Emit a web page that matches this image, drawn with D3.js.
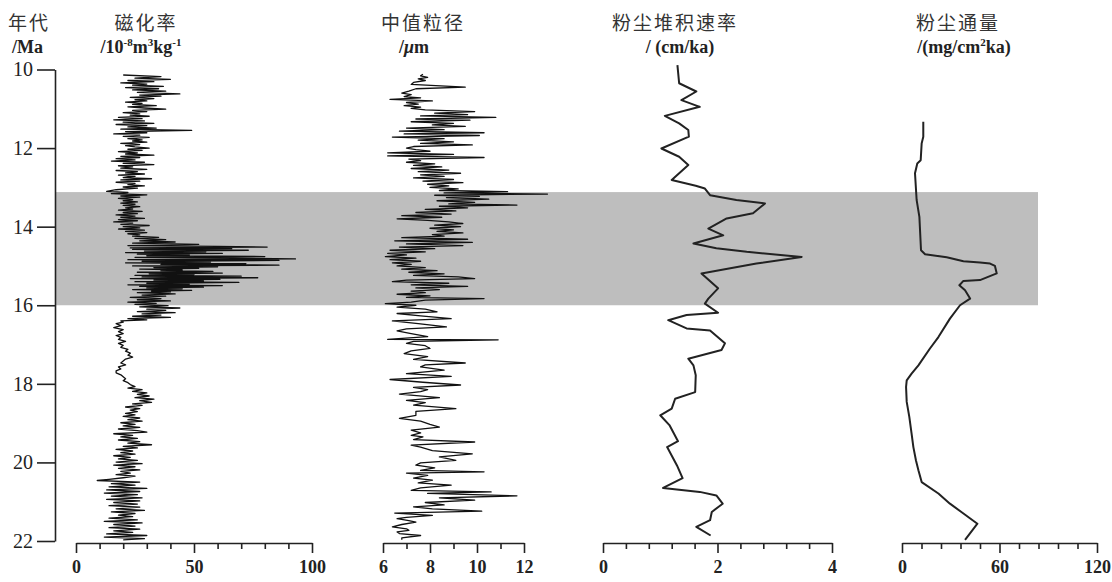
<!DOCTYPE html>
<html>
<head>
<meta charset="utf-8">
<script src="https://cdn.jsdelivr.net/npm/d3@7"></script>
<style>
  body { margin: 0; background: #fff; }
  svg { display: block; }
</style>
</head>
<body>
<svg id="chart" width="1112" height="582"></svg>
<script>
// 年代轴 (Ma)
const ageTicks = [10, 12, 14, 16, 18, 20, 22];
// 灰色条带范围 (Ma)
const bandAges = [13.12, 16.0];

// 磁化率 [年代, 值]
const magSus = [
  [10.14,20],[10.18,36],[10.22,25],[10.25,40],[10.28,22],[10.31,33],[10.34,19],[10.37,30],[10.40,24],[10.43,37],
  [10.46,21],[10.49,35],[10.52,24],[10.55,38],[10.58,26],[10.62,44],[10.65,27],[10.68,36],[10.71,23],[10.74,33],
  [10.77,25],[10.80,30],[10.83,21],[10.86,28],[10.89,24],[10.92,34],[10.95,22],[10.98,29],[11.01,38],[11.04,24],
  [11.07,30],[11.10,20],[11.13,27],[11.16,23],[11.19,31],[11.22,18],[11.25,28],[11.28,16],[11.31,29],[11.34,20],
  [11.37,33],[11.40,17],[11.43,30],[11.46,22],[11.49,34],[11.52,19],[11.55,49],[11.58,21],[11.61,30],[11.64,16],
  [11.67,27],[11.70,20],[11.73,31],[11.76,22],[11.79,28],[11.82,24],[11.85,30],[11.88,19],[11.91,27],[11.94,21],
  [11.97,25],[12.00,31],[12.03,22],[12.06,28],[12.09,18],[12.12,26],[12.15,21],[12.18,33],[12.21,19],[12.24,27],
  [12.27,17],[12.30,25],[12.33,15],[12.36,29],[12.39,20],[12.42,33],[12.45,18],[12.48,24],[12.51,19],[12.54,30],
  [12.57,17],[12.60,26],[12.63,21],[12.66,29],[12.69,18],[12.72,25],[12.75,20],[12.78,32],[12.81,19],[12.84,27],
  [12.87,17],[12.90,25],[12.93,22],[12.96,29],[12.99,20],[13.02,26],[13.06,17],[13.10,13],[13.13,22],[13.16,15],
  [13.19,30],[13.22,19],[13.25,27],[13.28,18],[13.31,24],[13.34,20],[13.37,26],[13.40,19],[13.43,25],[13.46,20],
  [13.49,27],[13.52,21],[13.55,24],[13.58,18],[13.61,28],[13.64,20],[13.67,26],[13.70,17],[13.73,25],[13.76,19],
  [13.79,29],[13.82,18],[13.85,26],[13.88,16],[13.91,24],[13.94,19],[13.97,31],[14.00,20],[14.03,27],[14.06,18],
  [14.09,29],[14.12,21],[14.15,30],[14.18,22],[14.21,27],[14.24,24],[14.27,35],[14.30,25],[14.33,38],[14.36,27],
  [14.39,42],[14.42,24],[14.45,52],[14.48,22],[14.50,60],[14.52,81],[14.54,23],[14.56,66],[14.58,24],[14.60,73],
  [14.62,29],[14.64,55],[14.66,21],[14.68,62],[14.70,26],[14.72,48],[14.74,30],[14.76,80],[14.78,25],[14.80,67],
  [14.82,93],[14.84,22],[14.86,86],[14.88,28],[14.90,57],[14.92,21],[14.94,72],[14.96,36],[14.98,86],[15.00,24],
  [15.02,60],[15.04,33],[15.06,52],[15.08,27],[15.10,45],[15.12,36],[15.14,58],[15.16,26],[15.18,62],[15.20,31],
  [15.22,50],[15.24,25],[15.26,70],[15.28,28],[15.30,77],[15.32,23],[15.34,61],[15.36,33],[15.38,54],[15.40,25],
  [15.42,69],[15.44,30],[15.46,48],[15.48,22],[15.50,62],[15.52,27],[15.54,54],[15.56,30],[15.58,45],[15.60,24],
  [15.62,49],[15.64,32],[15.66,40],[15.68,26],[15.71,42],[15.74,28],[15.77,38],[15.80,23],[15.83,36],[15.86,26],
  [15.89,40],[15.92,22],[15.95,34],[15.98,25],[16.01,39],[16.04,27],[16.07,44],[16.10,30],[16.13,38],[16.16,26],
  [16.19,42],[16.22,28],[16.25,36],[16.28,24],[16.31,40],[16.34,22],[16.37,30],[16.40,19],[16.43,20],[16.47,17],
  [16.52,19],[16.57,16],[16.62,20],[16.67,18],[16.72,20],[16.77,17],[16.82,19],[16.87,18],[16.92,21],[16.97,18],
  [17.02,20],[17.07,19],[17.12,22],[17.17,21],[17.22,23],[17.27,22],[17.32,24],[17.37,21],[17.42,20],[17.47,19],
  [17.52,21],[17.57,18],[17.62,19],[17.67,17],[17.72,17],[17.77,19],[17.82,20],[17.87,21],[17.92,20],[17.97,22],
  [18.02,23],[18.07,25],[18.11,22],[18.15,28],[18.19,24],[18.23,30],[18.27,26],[18.31,31],[18.35,25],[18.39,33],
  [18.43,27],[18.47,32],[18.51,24],[18.55,28],[18.59,21],[18.63,27],[18.67,23],[18.71,26],[18.75,21],[18.79,25],
  [18.83,20],[18.87,27],[18.91,22],[18.95,28],[18.99,19],[19.03,25],[19.07,20],[19.11,27],[19.15,18],[19.19,26],
  [19.23,30],[19.27,16],[19.31,24],[19.35,19],[19.39,26],[19.43,18],[19.47,27],[19.51,22],[19.55,32],[19.59,20],
  [19.63,26],[19.67,17],[19.71,24],[19.75,19],[19.79,25],[19.83,16],[19.87,23],[19.91,18],[19.95,26],[19.99,17],
  [20.03,28],[20.07,16],[20.11,25],[20.15,18],[20.19,27],[20.23,19],[20.27,23],[20.31,17],[20.35,25],[20.39,20],
  [20.43,14],[20.46,9],[20.50,27],[20.54,15],[20.58,25],[20.62,14],[20.66,30],[20.70,13],[20.74,27],[20.78,12],
  [20.82,26],[20.86,15],[20.90,28],[20.94,13],[20.98,27],[21.02,16],[21.06,26],[21.10,14],[21.14,27],[21.18,17],
  [21.22,29],[21.26,15],[21.30,25],[21.34,18],[21.38,24],[21.42,14],[21.46,26],[21.50,12],[21.54,28],[21.58,16],
  [21.62,25],[21.66,14],[21.70,27],[21.74,16],[21.78,24],[21.82,13],[21.86,30],[21.90,12],[21.94,29],[21.97,20]
];

// 中值粒径 [年代, μm]
const grainSize = [
  [10.12,7.7],[10.16,7.6],[10.20,7.9],[10.24,7.5],[10.28,7.8],[10.33,7.3],[10.38,7.2],[10.45,9.5],[10.49,7.4],[10.55,7.1],
  [10.60,6.8],[10.64,7.2],[10.69,6.9],[10.72,7.6],[10.76,6.3],[10.80,8.1],[10.84,7.0],[10.88,7.5],[10.92,6.9],[10.96,7.6],
  [10.99,7.2],[11.03,7.8],[11.07,9.9],[11.11,8.2],[11.15,9.6],[11.18,7.6],[11.22,10.8],[11.26,7.4],[11.29,9.7],[11.33,7.2],
  [11.37,9.0],[11.41,8.1],[11.45,9.5],[11.49,7.0],[11.53,8.6],[11.57,6.7],[11.61,10.3],[11.64,6.9],[11.68,10.1],[11.72,6.4],
  [11.76,8.6],[11.80,7.5],[11.84,9.0],[11.88,7.6],[11.92,9.8],[11.96,7.3],[12.00,7.0],[12.04,7.4],[12.08,8.0],[12.12,6.2],
  [12.16,9.0],[12.20,6.2],[12.24,10.3],[12.28,7.1],[12.32,7.6],[12.36,7.0],[12.40,8.2],[12.44,7.3],[12.48,8.5],[12.52,7.2],
  [12.56,8.8],[12.60,7.5],[12.64,9.3],[12.68,7.6],[12.72,8.6],[12.76,7.3],[12.80,9.0],[12.84,7.7],[12.88,9.4],[12.92,7.9],
  [12.96,8.8],[13.00,8.0],[13.04,9.2],[13.08,8.4],[13.11,11.3],[13.14,8.6],[13.17,13.0],[13.20,8.2],[13.23,10.1],[13.26,8.7],
  [13.30,10.5],[13.34,8.3],[13.38,9.9],[13.42,8.8],[13.45,11.7],[13.48,8.4],[13.52,9.6],[13.56,7.8],[13.60,9.1],[13.64,7.4],
  [13.68,8.9],[13.72,6.8],[13.76,8.5],[13.80,6.6],[13.84,7.9],[13.88,8.8],[13.92,9.4],[13.96,8.2],[14.00,9.3],[14.04,8.0],
  [14.08,9.0],[14.12,8.3],[14.16,9.4],[14.20,8.1],[14.24,8.6],[14.28,6.8],[14.32,9.6],[14.36,6.5],[14.40,9.8],[14.44,7.0],
  [14.48,9.4],[14.52,6.7],[14.56,8.2],[14.60,6.3],[14.64,7.8],[14.68,6.2],[14.72,7.0],[14.76,6.1],[14.80,7.4],[14.84,6.3],
  [14.88,7.6],[14.92,6.4],[14.96,7.2],[15.00,6.6],[15.04,7.8],[15.08,6.8],[15.12,8.3],[15.16,7.1],[15.20,8.6],[15.24,7.3],
  [15.28,9.2],[15.32,9.9],[15.36,7.0],[15.40,6.4],[15.44,8.8],[15.48,7.2],[15.52,9.6],[15.56,7.4],[15.60,8.4],[15.64,7.2],
  [15.68,7.8],[15.72,6.6],[15.76,8.0],[15.80,7.0],[15.83,10.3],[15.87,7.8],[15.92,7.2],[15.96,6.1],[16.00,7.4],[16.05,6.6],
  [16.10,7.8],[16.17,8.3],[16.21,6.6],[16.27,7.6],[16.34,8.9],[16.40,6.4],[16.47,7.5],[16.55,8.7],[16.60,7.0],[16.65,6.6],
  [16.72,7.2],[16.80,7.9],[16.87,6.2],[16.88,10.9],[16.92,7.3],[16.97,7.0],[17.03,7.8],[17.10,8.0],[17.16,7.2],[17.23,6.9],
  [17.31,7.9],[17.38,7.3],[17.47,9.5],[17.52,7.8],[17.57,7.6],[17.65,8.6],[17.74,7.0],[17.81,8.9],[17.89,6.3],[17.96,7.7],
  [18.03,9.3],[18.09,7.3],[18.15,7.9],[18.20,7.6],[18.26,6.7],[18.35,8.4],[18.42,7.0],[18.48,7.8],[18.54,7.3],[18.63,9.1],
  [18.70,7.4],[18.80,7.4],[18.88,6.7],[18.95,7.6],[19.03,8.0],[19.10,8.4],[19.18,7.2],[19.25,7.6],[19.31,7.2],[19.35,7.7],
  [19.42,7.3],[19.48,9.9],[19.56,7.2],[19.61,7.6],[19.70,8.1],[19.78,9.8],[19.86,8.4],[19.95,9.1],[20.01,7.6],[20.07,7.4],
  [20.14,8.2],[20.20,7.6],[20.24,10.3],[20.27,7.0],[20.33,7.9],[20.40,7.3],[20.45,8.1],[20.52,7.5],[20.58,8.9],[20.65,7.6],
  [20.71,7.2],[20.75,10.6],[20.79,7.9],[20.85,11.7],[20.90,8.4],[20.96,9.9],[21.02,7.8],[21.08,8.6],[21.13,7.3],[21.18,8.1],
  [21.24,10.2],[21.29,6.5],[21.35,8.1],[21.40,7.0],[21.43,6.6],[21.48,7.1],[21.52,7.4],[21.58,6.8],[21.64,6.4],[21.69,7.0],
  [21.73,7.1],[21.77,6.6],[21.81,6.7],[21.86,7.6],[21.92,6.8],[21.97,6.8]
];

// 粉尘堆积速率 [年代, cm/ka]
const dustRate = [
  [9.89,1.30],[10.35,1.33],[10.56,1.63],[10.78,1.37],[10.95,1.69],[11.18,1.08],[11.37,1.33],[11.54,1.49],[11.71,1.50],[12.01,1.02],
  [12.22,1.33],[12.43,1.49],[12.81,1.20],[12.96,1.62],[13.03,1.78],[13.20,1.87],[13.32,2.33],[13.41,2.83],[13.66,2.62],[13.79,2.16],
  [14.05,1.84],[14.22,2.10],[14.43,1.58],[14.55,1.98],[14.64,2.51],[14.77,3.47],[14.94,2.68],[15.19,1.72],[15.57,2.01],[15.83,1.84],
  [15.96,1.78],[16.19,2.01],[16.25,1.46],[16.38,1.14],[16.59,1.46],[16.64,1.87],[16.97,2.13],[17.14,2.07],[17.36,1.49],[17.53,1.58],
  [17.78,1.62],[18.21,1.61],[18.38,1.26],[18.63,1.20],[18.80,1.00],[19.05,1.16],[19.46,1.31],[19.61,1.12],[20.07,1.29],[20.40,1.39],
  [20.65,1.05],[20.75,1.69],[20.84,1.98],[21.05,2.09],[21.26,1.90],[21.47,1.87],[21.64,1.63],[21.86,1.88]
];

// 粉尘通量 [年代, mg/cm²ka]
const dustFlux = [
  [11.33,13.1],[11.71,13.1],[11.88,12.1],[12.31,11.5],[12.39,9.4],[12.64,8.0],[13.32,9.0],[13.75,10.7],[14.60,11.7],[14.70,14.2],
  [14.78,27.5],[14.88,37.8],[14.91,48.0],[14.94,54.2],[15.00,57.2],[15.19,58.3],[15.36,48.0],[15.38,37.8],[15.49,35.3],[15.62,38.8],
  [15.83,41.9],[16.00,35.7],[16.34,29.5],[16.81,22.4],[17.10,17.2],[17.53,10.1],[17.74,5.9],[17.91,2.9],[18.08,2.5],[18.46,2.9],
  [18.84,4.5],[19.27,5.9],[19.61,7.0],[19.95,8.6],[20.20,10.1],[20.50,12.1],[20.79,22.4],[21.05,29.5],[21.30,37.8],[21.56,46.4],
  [21.97,38.8]
];

// 横轴刻度
const susTicks = [0, 10, 20, 30, 40, 50, 60, 70, 80, 90, 100];
const susLabels = [0, 50, 100];
const gsTicks = [6, 7, 8, 9, 10, 11, 12];
const gsLabels = [6, 8, 10, 12];
const rateTicks = [0, 0.4, 0.8, 1.2, 1.6, 2, 2.4, 2.8, 3.2, 3.6, 4];
const rateLabels = [0, 2, 4];
const fluxTicks = [0, 12, 24, 36, 48, 60, 72, 84, 96, 108, 120];
const fluxLabels = [0, 60, 120];

const svg = d3.select("#chart");
const serif = "'Liberation Serif', 'Times New Roman', serif";
const cjk = "'Noto Sans CJK SC', sans-serif";

const y = d3.scaleLinear().domain([10, 22]).range([69.5, 541]);
const axisY = 543;

// 灰色条带
svg.append("rect")
  .attr("x", 55)
  .attr("y", y(bandAges[0]))
  .attr("width", 1038 - 55)
  .attr("height", y(bandAges[1]) - y(bandAges[0]))
  .attr("fill", "#bebebe");

// 年代轴
const gy = svg.append("g")
  .attr("transform", "translate(55,0)")
  .call(d3.axisLeft(y).tickValues(ageTicks).tickSize(18).tickPadding(4).tickSizeOuter(0));
gy.select(".domain").attr("stroke", "#222").attr("stroke-width", 1.6);
gy.selectAll(".tick line").attr("stroke", "#222").attr("stroke-width", 1.6);
gy.selectAll(".tick text")
  .attr("font-family", serif)
  .attr("font-size", 20)
  .attr("fill", "#222");

const panels = [
  { data: magSus, domain: [0, 100], range: [76, 312], ticks: susTicks, labels: susLabels, width: 1.3, color: "#111" },
  { data: grainSize, domain: [6, 12], range: [383, 524], ticks: gsTicks, labels: gsLabels, width: 1.3, color: "#111" },
  { data: dustRate, domain: [0, 4], range: [603, 832], ticks: rateTicks, labels: rateLabels, width: 2, color: "#222" },
  { data: dustFlux, domain: [0, 120], range: [902, 1097], ticks: fluxTicks, labels: fluxLabels, width: 2, color: "#222" }
];

panels.forEach(p => {
  const x = d3.scaleLinear().domain(p.domain).range(p.range);

  const line = d3.line()
    .x(d => x(d[1]))
    .y(d => y(d[0]));

  svg.append("path")
    .datum(p.data)
    .attr("fill", "none")
    .attr("stroke", p.color)
    .attr("stroke-width", p.width)
    .attr("stroke-linejoin", "round")
    .attr("d", line);

  const g = svg.append("g")
    .attr("transform", `translate(0,${axisY})`)
    .call(
      d3.axisBottom(x)
        .tickValues(p.ticks)
        .tickSize(6)
        .tickSizeOuter(0)
        .tickFormat(d => p.labels.includes(d) ? d : "")
    );
  g.select(".domain").attr("stroke", "#222").attr("stroke-width", 1.6);
  g.selectAll(".tick line")
    .attr("stroke", "#222")
    .attr("stroke-width", 1.6)
    .attr("y2", d => p.labels.includes(d) ? 10 : 6);
  g.selectAll(".tick text")
    .attr("y", 17)
    .attr("font-family", serif)
    .attr("font-weight", "bold")
    .attr("font-size", 18)
    .attr("fill", "#222");
});

// 标题
const titles = [
  { x: 8, anchor: "start", text: "年代" },
  { x: 146, anchor: "middle", text: "磁化率" },
  { x: 423, anchor: "middle", text: "中值粒径" },
  { x: 675, anchor: "middle", text: "粉尘堆积速率" },
  { x: 958, anchor: "middle", text: "粉尘通量" }
];
svg.selectAll("text.title")
  .data(titles)
  .join("text")
  .attr("class", "title")
  .attr("x", d => d.x)
  .attr("y", 30)
  .attr("text-anchor", d => d.anchor)
  .attr("font-family", cjk)
  .attr("font-size", 19)
  .attr("letter-spacing", 2)
  .attr("fill", "#333")
  .text(d => d.text);

// 单位 (带上标)
const units = [
  { x: 12, anchor: "start", parts: [["/Ma", 0]] },
  { x: 141, anchor: "middle", parts: [["/10", 0], ["-8", 1], ["m", 0], ["3", 1], ["kg", 0], ["-1", 1]] },
  { x: 414, anchor: "middle", parts: [["/", 0], ["μ", 2], ["m", 0]] },
  { x: 680, anchor: "middle", parts: [["/ (", 0], ["cm/ka", 0], [")", 0]] },
  { x: 964, anchor: "middle", parts: [["/(", 0], ["mg/cm", 0], ["2", 1], ["ka", 0], [")", 0]] }
];
units.forEach(u => {
  const t = svg.append("text")
    .attr("x", u.x)
    .attr("y", 53)
    .attr("text-anchor", u.anchor)
    .attr("font-family", serif)
    .attr("font-weight", "bold")
    .attr("font-size", 18)
    .attr("fill", "#222");
  let prevSup = false;
  u.parts.forEach(([s, kind]) => {
    const ts = t.append("tspan").text(s);
    if (kind === 1) {
      ts.attr("font-size", 11).attr("dy", prevSup ? 0 : -7);
      prevSup = true;
    } else {
      if (prevSup) ts.attr("dy", 7);
      prevSup = false;
      if (kind === 2) ts.attr("font-style", "italic");
    }
  });
});
</script>
</body>
</html>
